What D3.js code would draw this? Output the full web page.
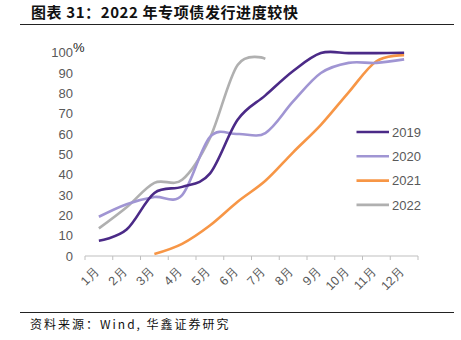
<!DOCTYPE html>
<html><head><meta charset="utf-8">
<script src="https://cdn.jsdelivr.net/npm/d3@7"></script>
<style>body{margin:0;background:#fff}svg{display:block}</style>
</head><body>
<script>
const months = ["1月","2月","3月","4月","5月","6月","7月","8月","9月","10月","11月","12月"];
const yTicks = [0,10,20,30,40,50,60,70,80,90,100];
const seriesNames = ["2019","2020","2021","2022"];
const s2019 = [7.5, 13, 31, 34, 40.5, 67, 79, 91, 99.8, 99.8, 99.8, 100];
const s2020 = [19.3, 25.5, 29, 30, 58.5, 60, 60.5, 76, 90, 95, 95, 96.7];
const s2021 = [null, null, 1, 6, 15, 26.7, 37, 51, 64.5, 80.5, 95.8, 98.8];
const s2022 = [13.6, 24, 36, 37.5, 58, 94, 97, null, null, null, null, null];
const colors = ["#4B2A87", "#A095D3", "#F79646", "#B0B0B0"];

const W = 461, H = 340;
const svg = d3.select("body").append("svg").attr("width", W).attr("height", H);

// title
svg.append("text").attr("x", 31).attr("y", 18)
  .attr("font-family", "'Noto Sans CJK SC', sans-serif").attr("font-weight", "bold")
  .attr("font-size", 15).attr("letter-spacing", 0.6).attr("fill", "#111")
  .text("图表 31：2022 年专项债发行进度较快");
svg.append("line").attr("x1", 20).attr("x2", 454).attr("y1", 24.5).attr("y2", 24.5)
  .attr("stroke", "#222").attr("stroke-width", 1);

const x = d3.scaleBand().domain(months).range([85, 418]);
const y = d3.scaleLinear().domain([0, 100]).range([256, 52.7]);

// y tick labels
svg.append("g").selectAll("text").data(yTicks).join("text")
  .attr("x", 73).attr("y", d => y(d)).attr("dy", "0.36em")
  .attr("text-anchor", "end").attr("font-family", "'Liberation Sans', Arial, sans-serif")
  .attr("font-size", 13).attr("fill", "#595959").text(d => d);
svg.append("text").attr("x", 73).attr("y", 52).attr("font-family", "'Liberation Sans', Arial, sans-serif")
  .attr("font-size", 13).attr("fill", "#222").text("%");

// x axis
const xAxis = svg.append("g").attr("transform", `translate(0,${y(0)})`);
xAxis.append("line").attr("x1", 85).attr("x2", 418).attr("stroke", "#BFBFBF");
const bounds = months.map(m => x(m)).concat([x.range()[1]]);
xAxis.selectAll("line.tk").data(bounds).join("line").attr("class", "tk")
  .attr("x1", d => d).attr("x2", d => d).attr("y1", 0).attr("y2", 4).attr("stroke", "#BFBFBF");
xAxis.selectAll("text").data(months).join("text")
  .attr("transform", d => `translate(${x(d) + x.bandwidth()/2 - 2},${13}) rotate(-45)`)
  .attr("text-anchor", "end").attr("dy", "0.35em")
  .attr("font-family", "'Liberation Sans', Arial, sans-serif")
  .attr("font-size", 12.5).attr("fill", "#595959").text(d => d);

// lines
const allSeries = [s2019, s2020, s2021, s2022];
const line = d3.line()
  .defined(d => d.v != null)
  .x(d => x(d.m) + x.bandwidth()/2)
  .y(d => y(d.v))
  .curve(d3.curveCatmullRom.alpha(0));
[2, 3, 1, 0].forEach(i => {
  const pts = months.map((m, k) => ({m, v: allSeries[i][k]})).filter(d => d.v != null);
  svg.append("path").datum(pts).attr("d", line)
    .attr("fill", "none").attr("stroke", colors[i]).attr("stroke-width", 2.6)
    .attr("stroke-linecap", "butt");
});

// legend
const lg = svg.append("g");
seriesNames.forEach((n, i) => {
  const ly = 132 + i * 24.3;
  lg.append("line").attr("x1", 356.5).attr("x2", 389).attr("y1", ly).attr("y2", ly)
    .attr("stroke", colors[i]).attr("stroke-width", 2.6);
  lg.append("text").attr("x", 392).attr("y", ly).attr("dy", "0.36em")
    .attr("font-family", "'Liberation Sans', Arial, sans-serif")
    .attr("font-size", 13).attr("fill", "#595959").text(n);
});

// source
svg.append("line").attr("x1", 20).attr("x2", 454).attr("y1", 312.5).attr("y2", 312.5)
  .attr("stroke", "#222").attr("stroke-width", 1);
svg.append("text").attr("x", 30).attr("y", 329)
  .attr("font-family", "'Noto Sans CJK SC', sans-serif")
  .attr("font-size", 12).attr("letter-spacing", 2).attr("fill", "#111")
  .text("资料来源：Wind, 华鑫证券研究");
</script>
</body></html>
